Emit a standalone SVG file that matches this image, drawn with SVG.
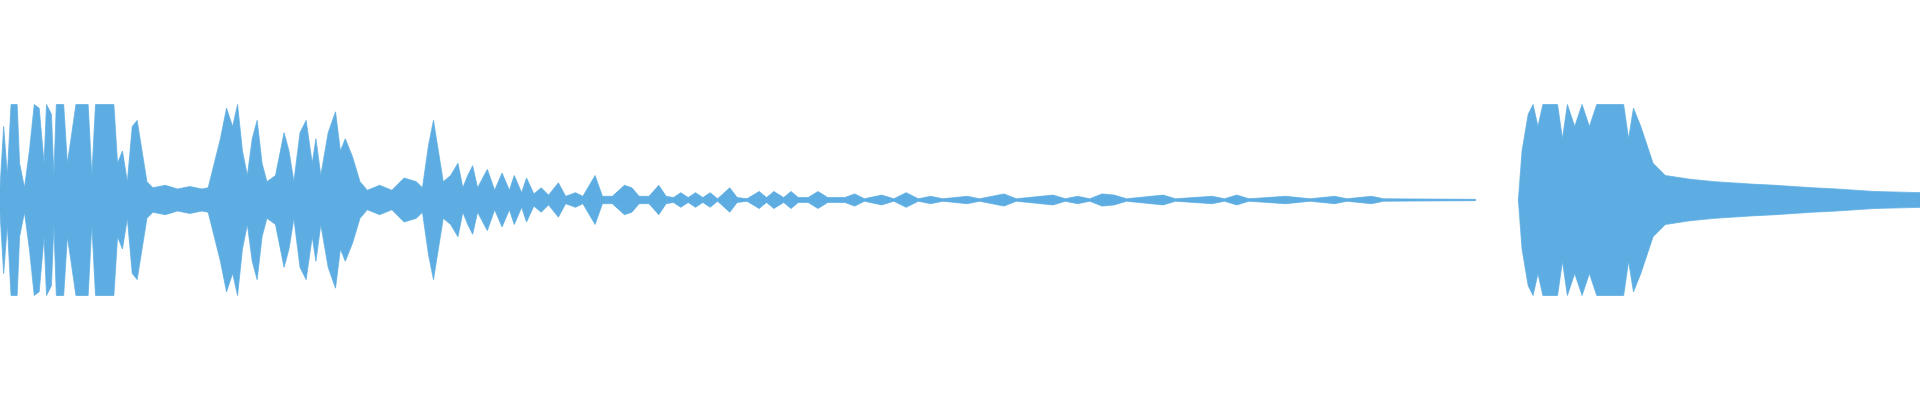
<svg xmlns="http://www.w3.org/2000/svg" width="1920" height="400" viewBox="0 0 1920 400">
<style>.w{fill:#5dade2;stroke:#5dade2;stroke-width:0.6;stroke-linejoin:round}</style>
<rect width="1920" height="400" fill="#fff"/>
<defs>
<path id="a" class="w" d="M0,0 L0,-10 3,-60 6,-20 9,-78 14,-78 16,-30 20,-10 24,-40 28,-78 32,-75 36,-30 38,-78 42,-70 44,-20 46,-78 52,-78 55,-30 58,-50 62,-78 72,-78 75,-20 78,-78 93,-78 96,-30 100,-40 104,-15 108,-60 112,-65 116,-40 120,-15 125,-10 135,-12 145,-9 155,-11 165,-9 170,-10 175,-30 180,-50 185,-75 190,-60 194,-78 198,-40 202,-20 206,-50 210,-65 214,-30 218,-15 225,-20 232,-55 236,-40 240,-15 245,-55 250,-65 255,-30 258,-50 262,-20 268,-55 274,-72 278,-40 282,-50 288,-35 294,-15 300,-8 310,-12 320,-8 330,-18 340,-15 345,-10 350,-45 354,-65 358,-40 362,-15 368,-20 374,-30 378,-10 382,-20 386,-28 390,-10 398,-25 404,-8 410,-22 416,-8 420,-20 426,-6 430,-18 436,-5 442,-10 448,-4 456,-14 462,-3 470,-6 476,-3 486,-20 492,-3 500,-3 510,-12 516,-10 522,-3 530,-3 538,-12 544,-3 550,-2 556,-6 562,-2 568,-6 574,-2 580,-6 586,-1 596,-10 602,-2 610,-1 620,-7 626,-2 632,-7 640,-2 646,-7 652,-2 660,-2 668,-7 676,-2 690,-2 698,-5 706,-1 720,-4 730,-1 740,-6 750,-1 760,-3 770,-1 790,-3 800,-1 820,-5 830,-1 860,-4 870,-1 880,-3 890,-1 900,-5 910,-4 920,-1 950,-4 960,-1 990,-3 1000,-1 1010,-4 1020,-1 1050,-3 1070,-1 1090,-3 1100,-1 1120,-3 1130,-1 1205,-0.5 1205,0 Z M1240,0 L1243,-40 1248,-70 1252,-78 1256,-60 1260,-78 1272,-78 1276,-50 1280,-78 1286,-60 1292,-78 1298,-60 1304,-78 1326,-78 1330,-50 1334,-75 1340,-60 1350,-30 1360,-20 1380,-17 1400,-15 1430,-13 1450,-12 1480,-10 1500,-9 1530,-7 1568,-6 1568,0 Z"/>
</defs>
<g transform="translate(0,200) scale(1.2245)">
<use href="#a"/>
<use href="#a" transform="scale(1,-1)"/>
</g>
</svg>
